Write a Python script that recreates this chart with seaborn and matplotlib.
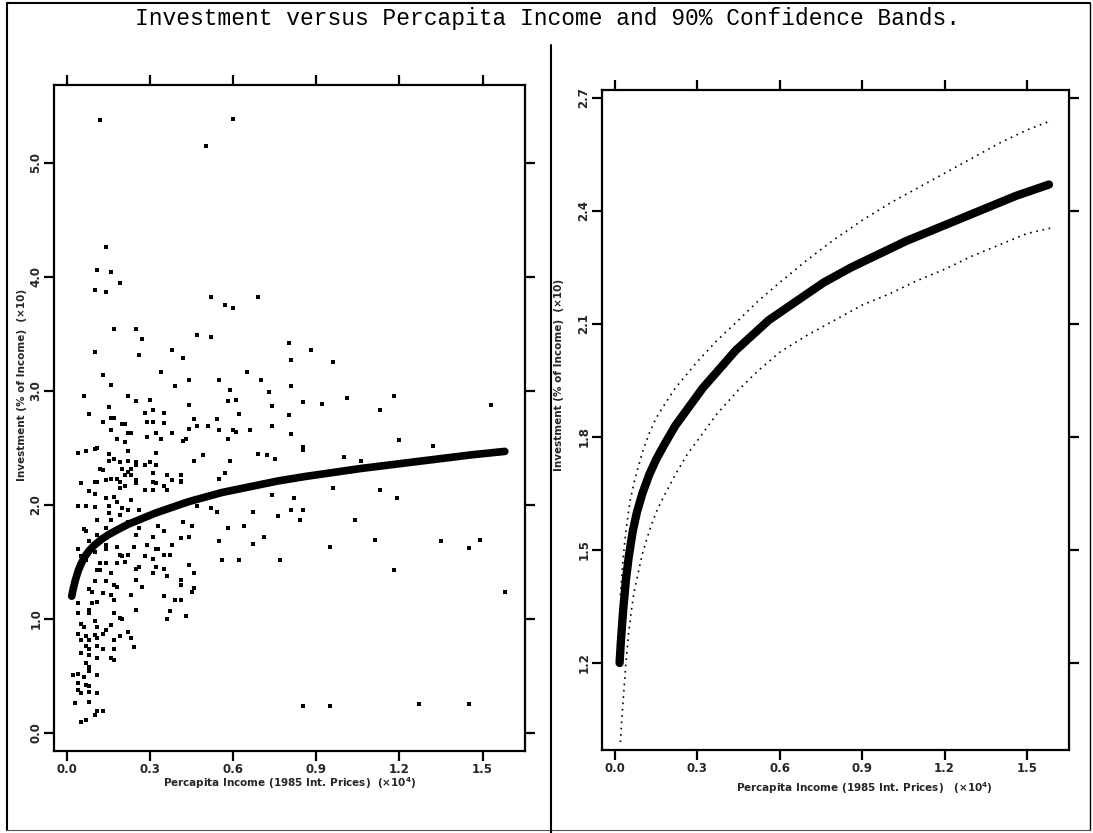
import numpy as np
import pandas as pd
import matplotlib
matplotlib.use("Agg")
import matplotlib.pyplot as plt
from matplotlib.lines import Line2D
import seaborn as sns

# ---------------- data (x: percapita income x10^4, y: investment x10) ----------------
scatter_x = [
    0.15, 0.25, 0.44, 0.58, 0.61, 0.74, 0.08, 0.28, 0.31, 0.35, 0.62, 0.80, 0.13, 0.16, 0.17, 0.20, 0.21,
    0.29, 0.31, 0.35, 0.46, 0.54, 0.47, 0.44, 0.51, 0.16, 0.22, 0.23, 0.32, 0.29, 0.34, 0.38, 0.55, 0.60,
    0.61, 0.66, 0.74, 0.81, 0.18, 0.21, 0.42, 0.43, 0.58, 0.85, 0.04, 0.07, 0.10, 0.11, 0.15, 0.22, 0.32,
    0.49, 0.69, 0.72, 0.75, 0.85,
    0.15, 0.17, 0.19, 0.22, 0.25, 0.25, 0.28, 0.30, 0.32, 0.46, 0.59, 0.12, 0.13, 0.20, 0.23, 0.22, 0.31,
    0.36, 0.41, 0.57, 0.05, 0.10, 0.11, 0.14, 0.16, 0.18, 0.19, 0.21, 0.23, 0.25, 0.25, 0.31, 0.32, 0.35,
    0.38, 0.41, 0.41, 0.55, 0.08, 0.10, 0.14, 0.17, 0.19, 0.21, 0.28, 0.31, 0.36, 0.74, 0.82, 0.04, 0.07,
    0.10, 0.15, 0.18, 0.20, 0.23, 0.26, 0.47, 0.52, 0.54, 0.67, 0.81, 0.85,
    0.15, 0.19, 0.22, 0.16, 0.11, 0.22, 0.26, 0.33, 0.35, 0.42, 0.45, 0.58, 0.64, 0.76, 0.06, 0.07, 0.11,
    0.14, 0.25, 0.31, 0.41, 0.44, 0.55, 0.67, 0.71, 0.04, 0.08, 0.14, 0.18, 0.10, 0.14, 0.24, 0.29, 0.33,
    0.38, 0.05, 0.07, 0.12, 0.14, 0.19, 0.20, 0.22, 0.28, 0.31, 0.32, 0.35, 0.37, 0.11, 0.12, 0.16, 0.18,
    0.21, 0.25, 0.26, 0.32, 0.35, 0.44, 0.56, 0.62, 0.46, 0.10, 0.14, 0.17, 0.25, 0.27, 0.31, 0.36, 0.41,
    0.41, 0.08, 0.09, 0.13, 0.16, 0.18, 0.23, 0.35, 0.39, 0.41, 0.46, 0.45,
    0.04, 0.09, 0.11, 0.17, 0.08, 0.04, 0.08, 0.17, 0.25, 0.37, 0.36, 0.43, 0.19, 0.20, 0.05, 0.10, 0.06,
    0.11, 0.14, 0.16, 0.04, 0.07, 0.10, 0.13, 0.22, 0.05, 0.08, 0.11, 0.17, 0.19, 0.23, 0.07, 0.08, 0.11,
    0.13, 0.17, 0.24, 0.05, 0.08, 0.11, 0.16, 0.17, 0.07, 0.08, 0.02, 0.04, 0.06, 0.08, 0.11, 0.04, 0.07,
    0.08, 0.04, 0.05, 0.08, 0.11, 0.03, 0.08, 0.11, 0.13, 0.10, 0.05, 0.07, 0.85,
    0.12, 0.60, 0.50, 0.14, 0.11, 0.16, 0.10, 0.14, 0.19, 0.52, 0.57, 0.60, 0.69, 0.17, 0.25, 0.27, 0.47,
    0.52, 0.26, 0.38, 0.42, 0.80, 0.81, 0.88, 0.96, 0.10, 0.13, 0.16, 0.34, 0.39, 0.44, 0.55, 0.65, 0.70,
    0.73, 0.81, 0.85, 0.92, 1.01, 1.13, 1.18, 1.53, 0.22, 0.30, 0.06, 0.59,
    1.20, 1.32, 1.06, 1.00, 0.91, 0.96, 1.13, 1.19, 0.84, 0.95, 1.11, 1.35, 1.45, 1.18, 1.58, 1.49, 0.95,
    1.27, 1.45, 1.04, 0.77,
]
scatter_y = [
    2.86, 2.91, 2.88, 2.91, 2.92, 2.87, 2.80, 2.81, 2.83, 2.81, 2.80, 2.79, 2.73, 2.76, 2.76, 2.71, 2.71,
    2.73, 2.73, 2.72, 2.75, 2.75, 2.69, 2.67, 2.69, 2.66, 2.63, 2.63, 2.63, 2.60, 2.58, 2.63, 2.66, 2.66,
    2.64, 2.66, 2.69, 2.62, 2.58, 2.55, 2.56, 2.58, 2.58, 2.51, 2.46, 2.47, 2.49, 2.50, 2.45, 2.47, 2.46,
    2.44, 2.45, 2.44, 2.40, 2.48,
    2.39, 2.40, 2.38, 2.39, 2.38, 2.35, 2.35, 2.38, 2.35, 2.39, 2.39, 2.32, 2.31, 2.32, 2.32, 2.29, 2.28,
    2.26, 2.26, 2.28, 2.19, 2.20, 2.20, 2.22, 2.23, 2.23, 2.20, 2.26, 2.26, 2.22, 2.19, 2.20, 2.19, 2.17,
    2.22, 2.21, 2.20, 2.23, 2.12, 2.10, 2.06, 2.07, 2.15, 2.17, 2.13, 2.13, 2.13, 2.09, 2.06, 1.99, 1.99,
    1.98, 1.99, 2.03, 1.97, 2.04, 1.96, 1.99, 1.97, 1.94, 1.94, 1.96, 1.96,
    1.93, 1.91, 1.96, 1.87, 1.87, 1.85, 1.80, 1.82, 1.77, 1.85, 1.82, 1.80, 1.82, 1.90, 1.79, 1.77, 1.74,
    1.80, 1.74, 1.72, 1.71, 1.72, 1.68, 1.66, 1.72, 1.61, 1.68, 1.65, 1.63, 1.59, 1.61, 1.63, 1.65, 1.61,
    1.65, 1.55, 1.52, 1.49, 1.49, 1.56, 1.55, 1.56, 1.55, 1.53, 1.61, 1.56, 1.56, 1.43, 1.43, 1.40, 1.49,
    1.50, 1.44, 1.46, 1.46, 1.44, 1.47, 1.52, 1.52, 1.40, 1.33, 1.33, 1.30, 1.34, 1.28, 1.40, 1.38, 1.34,
    1.30, 1.26, 1.24, 1.23, 1.21, 1.28, 1.21, 1.20, 1.17, 1.17, 1.27, 1.24,
    1.14, 1.14, 1.15, 1.17, 1.08, 1.05, 1.05, 1.05, 1.08, 1.07, 1.00, 1.03, 1.01, 1.00, 0.96, 0.98, 0.93,
    0.93, 0.90, 0.95, 0.87, 0.85, 0.86, 0.87, 0.89, 0.82, 0.82, 0.83, 0.82, 0.85, 0.83, 0.76, 0.74, 0.76,
    0.74, 0.74, 0.75, 0.70, 0.68, 0.66, 0.66, 0.64, 0.61, 0.58, 0.51, 0.52, 0.49, 0.54, 0.51, 0.44, 0.42,
    0.41, 0.38, 0.35, 0.36, 0.35, 0.26, 0.27, 0.19, 0.19, 0.16, 0.10, 0.11, 0.24,
    5.38, 5.39, 5.15, 4.26, 4.06, 4.04, 3.89, 3.87, 3.95, 3.82, 3.75, 3.73, 3.82, 3.54, 3.54, 3.46, 3.49,
    3.47, 3.32, 3.36, 3.29, 3.42, 3.27, 3.36, 3.25, 3.34, 3.14, 3.05, 3.17, 3.04, 3.10, 3.10, 3.17, 3.10,
    2.99, 3.04, 2.90, 2.89, 2.94, 2.83, 2.96, 2.88, 2.96, 2.92, 2.96, 3.01,
    2.57, 2.52, 2.39, 2.42, 2.25, 2.15, 2.13, 2.06, 1.87, 1.63, 1.69, 1.68, 1.62, 1.43, 1.24, 1.69, 0.24,
    0.25, 0.25, 1.87, 1.52,
]

fit_x = [0.017, 0.022, 0.03, 0.04, 0.05, 0.065, 0.08, 0.10, 0.125, 0.15, 0.18, 0.22, 0.26, 0.32,
         0.38, 0.44, 0.50, 0.56, 0.62, 0.68, 0.76, 0.86, 0.96, 1.06, 1.16, 1.26, 1.36, 1.46, 1.58]
fit_y = [1.20, 1.26, 1.34, 1.42, 1.48, 1.55, 1.60, 1.65, 1.70, 1.74, 1.78, 1.83, 1.87, 1.93,
         1.98, 2.03, 2.07, 2.11, 2.14, 2.17, 2.21, 2.25, 2.285, 2.32, 2.35, 2.38, 2.41, 2.44, 2.47]

upper_x = [0.02, 0.03, 0.04, 0.055, 0.07, 0.085, 0.10, 0.125, 0.15, 0.18, 0.22, 0.26, 0.30, 0.37,
           0.45, 0.52, 0.60, 0.70, 0.80, 0.90, 1.00, 1.10, 1.20, 1.30, 1.40, 1.50, 1.59]
upper_y = [1.38, 1.48, 1.55, 1.63, 1.68, 1.72, 1.76, 1.81, 1.85, 1.885, 1.93, 1.965, 2.00, 2.055,
           2.11, 2.16, 2.21, 2.27, 2.325, 2.375, 2.42, 2.46, 2.50, 2.54, 2.58, 2.615, 2.64]
lower_x = [0.02, 0.025, 0.03, 0.04, 0.05, 0.06, 0.07, 0.085, 0.10, 0.125, 0.15, 0.18, 0.22, 0.26,
           0.30, 0.37, 0.45, 0.52, 0.60, 0.70, 0.80, 0.90, 1.00, 1.10, 1.20, 1.30, 1.40, 1.50, 1.59]
lower_y = [0.99, 1.05, 1.10, 1.20, 1.28, 1.34, 1.39, 1.44, 1.49, 1.55, 1.60, 1.645, 1.70, 1.75,
           1.79, 1.86, 1.925, 1.975, 2.025, 2.07, 2.11, 2.15, 2.18, 2.215, 2.245, 2.28, 2.31, 2.34, 2.355]

x_ticks = [0.0, 0.3, 0.6, 0.9, 1.2, 1.5]
x_ticklabels = ["0.0", "0.3", "0.6", "0.9", "1.2", "1.5"]
left_y_ticks = [0.0, 1.0, 2.0, 3.0, 4.0, 5.0]
left_y_ticklabels = ["0.0", "1.0", "2.0", "3.0", "4.0", "5.0"]
right_y_ticks = [1.2, 1.5, 1.8, 2.1, 2.4, 2.7]
right_y_ticklabels = ["1.2", "1.5", "1.8", "2.1", "2.4", "2.7"]

title = "Investment versus Percapita Income and 90% Confidence Bands."
ylabel = "Investment (% of Income)  (\u00d710)"
xlabel_left = "Percapita Income (1985 Int. Prices)  (\u00d710$^{\\mathbf{4}}$)"
xlabel_right = "Percapita Income (1985 Int. Prices)   (\u00d710$^{\\mathbf{4}}$)"

# ---------------- figure ----------------
sns.set_theme(style="ticks")
plt.rcParams["font.family"] = ["DejaVu Sans"]
plt.rcParams["mathtext.default"] = "bf"

W, H = 1093, 833
fig = plt.figure(figsize=(W / 100, H / 100), dpi=100, facecolor="white")

ax1 = fig.add_axes([54 / W, 1 - 751 / H, 471 / W, 666 / H])
ax2 = fig.add_axes([602 / W, 1 - 750 / H, 467 / W, 660 / H])

scat = pd.DataFrame({"x": scatter_x, "y": scatter_y})
fit = pd.DataFrame({"x": fit_x, "y": fit_y})
up = pd.DataFrame({"x": upper_x, "y": upper_y})
lo = pd.DataFrame({"x": lower_x, "y": lower_y})

# left panel
sns.scatterplot(data=scat, x="x", y="y", ax=ax1, color="black", marker="s", s=6.5,
                linewidth=0, legend=False)
sns.lineplot(data=fit, x="x", y="y", ax=ax1, color="black", linewidth=5.5,
             solid_capstyle="round", solid_joinstyle="round", sort=True, estimator=None)

# right panel
sns.lineplot(data=fit, x="x", y="y", ax=ax2, color="black", linewidth=6,
             solid_capstyle="round", solid_joinstyle="round", sort=True, estimator=None)
for band in (up, lo):
    sns.lineplot(data=band, x="x", y="y", ax=ax2, color="black", linewidth=1.2,
                 linestyle=(0, (1, 2.8)), sort=True, estimator=None)

ax1.set_xlim(-0.047, 1.653)
ax1.set_ylim(-0.158, 5.684)
ax2.set_xlim(-0.047, 1.653)
ax2.set_ylim(0.969, 2.721)

for ax, yt, ytl in ((ax1, left_y_ticks, left_y_ticklabels), (ax2, right_y_ticks, right_y_ticklabels)):
    ax.set_xticks(x_ticks)
    ax.set_xticklabels(x_ticklabels, fontsize=8.5, fontweight="bold")
    ax.set_yticks(yt)
    ax.set_yticklabels(ytl, fontsize=8.5, fontweight="bold", rotation=90, va="center")
    ax.tick_params(axis="both", which="major", direction="out", length=7.5, width=1.6,
                   color="black", top=True, right=True, labeltop=False, labelright=False,
                   pad=1)
    for sp in ax.spines.values():
        sp.set_visible(True)
        sp.set_linewidth(1.6)
        sp.set_color("black")
    ax.set_facecolor("white")
    ax.grid(False)

ax1.set_xlabel(xlabel_left, fontsize=7.5, fontweight="bold")
ax1.set_ylabel(ylabel, fontsize=7.5, fontweight="bold")
ax1.xaxis.set_label_coords(0.5, -0.036)
ax1.yaxis.set_label_coords(-0.058, 0.55)

ax2.set_xlabel(xlabel_right, fontsize=7.5, fontweight="bold")
ax2.set_ylabel(ylabel, fontsize=7.5, fontweight="bold")
ax2.xaxis.set_label_coords(0.563, -0.045)
ax2.yaxis.set_label_coords(-0.082, 0.568)

fig.text(547.5 / W, 1 - 19 / H, title, family=["Liberation Mono", "DejaVu Sans Mono"],
         fontsize=16.5, ha="center", va="center", color="black")

# outer frame and divider
frame_kw = dict(color="black", linewidth=1.5, transform=fig.transFigure)
fig.add_artist(Line2D([7 / W, 1090 / W], [1 - 3 / H, 1 - 3 / H], **frame_kw))
fig.add_artist(Line2D([7 / W, 7 / W], [1 - 3 / H, 1 - 830 / H], **frame_kw))
fig.add_artist(Line2D([1090 / W, 1090 / W], [1 - 3 / H, 1 - 830 / H], linewidth=1.0,
                      color="black", transform=fig.transFigure))
fig.add_artist(Line2D([7 / W, 1090 / W], [1 - 830 / H, 1 - 830 / H], linewidth=0.8,
                      color="#555555", transform=fig.transFigure))
fig.add_artist(Line2D([551 / W, 551 / W], [1 - 45 / H, 1 - 833 / H], **frame_kw))

fig.savefig("out.png", dpi=100, facecolor="white")
